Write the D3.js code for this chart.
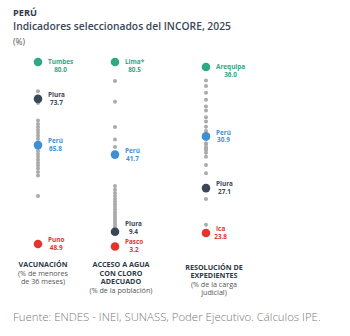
<!DOCTYPE html>
<html>
<head>
<meta charset="utf-8">
<script src="https://cdn.jsdelivr.net/npm/d3@7"></script>
<style>
  html, body { margin: 0; padding: 0; background: #fff; }
  svg { display: block; font-family: "Open Sans", "Noto Sans", sans-serif; }
</style>
</head>
<body>
<svg id="chart" width="350" height="336"></svg>
<script>
// ── data ───────────────────────────────────────────
const vacGray = [79.6, 75.0, 73.0, 70.0, 69.4, 68.9, 68.4, 67.9, 67.4, 66.9, 66.3,
  65.3, 64.8, 64.3, 63.8, 63.3, 62.8, 62.3, 61.8, 61.2, 60.6, 57.1];
const vacHighlights = [
  { name: "Tumbes", value: 80.0, kind: "top" },
  { name: "Piura", value: 73.7, kind: "piura" },
  { name: "Perú", value: 65.8, kind: "peru" },
  { name: "Puno", value: 48.9, kind: "bottom" }
];

const aguaGray = [72.5, 63.8, 53.3, 48.0, 44.9, 28.5, 27.0, 25.6, 24.4, 23.1, 22.0,
  20.9, 19.8, 18.7, 17.6, 16.6, 15.7, 14.8, 13.9, 13.0, 12.2, 11.3];
const aguaHighlights = [
  { name: "Lima*", value: 80.5, kind: "top" },
  { name: "Perú", value: 41.7, kind: "peru" },
  { name: "Piura", value: 9.4, kind: "piura" },
  { name: "Pasco", value: 3.2, kind: "bottom" }
];

const resGray = [35.0, 34.6, 34.1, 33.6, 33.1, 32.8, 32.3, 32.0, 31.6, 31.3, 30.7,
  30.4, 30.3, 30.1, 30.0, 29.9, 29.7, 29.4, 28.8, 28.2, 26.3, 24.4];
const resHighlights = [
  { name: "Arequipa", value: 36.0, kind: "top" },
  { name: "Perú", value: 30.9, kind: "peru" },
  { name: "Piura", value: 27.1, kind: "piura" },
  { name: "Ica", value: 23.8, kind: "bottom" }
];

const categoryTitles = [
  ["VACUNACIÓN"],
  ["ACCESO A AGUA", "CON CLORO", "ADECUADO"],
  ["RESOLUCIÓN DE", "EXPEDIENTES"]
];
const categoryNotes = [
  ["(% de menores", "de 36 meses)"],
  ["(% de la población)"],
  ["(% de la carga", "judicial)"]
];

// ── layout ─────────────────────────────────────────
const colors = {
  top: "#2fa884",
  piura: "#3a4758",
  peru: "#3f8fd6",
  bottom: "#e2352c",
  gray: "#ababab"
};

const columns = [
  { gray: vacGray, hl: vacHighlights, x: 38, range: [244, 62], labelX: 43, labelY: 267 },
  { gray: aguaGray, hl: aguaHighlights, x: 115, range: [246.5, 62], labelX: 121, labelY: 267 },
  { gray: resGray, hl: resHighlights, x: 206, range: [233, 67], labelX: 214, labelY: 269.5 }
];

// small vertical nudges so labels don't clash (col index + kind)
function labelNudge(i, d) {
  if (d.kind === "top") return 4;
  if (i === 1 && d.kind === "piura") return -3.5;
  if (i === 1 && d.kind === "bottom") return -1;
  return 0;
}

const svg = d3.select("#chart");

// titles
svg.append("text")
  .attr("x", 13).attr("y", 15.5)
  .attr("font-size", 9.2).attr("font-weight", 700)
  .attr("fill", "#2e3a4a")
  .text("PERÚ");
svg.append("text")
  .attr("x", 13).attr("y", 30)
  .attr("font-size", 10.3).attr("font-weight", 600)
  .attr("fill", "#3b4656")
  .text("Indicadores seleccionados del INCORE, 2025");
svg.append("text")
  .attr("x", 13).attr("y", 44.5)
  .attr("font-size", 8.5)
  .attr("fill", "#555")
  .text("(%)");

columns.forEach((col, i) => {
  const all = col.gray.concat(col.hl.map((d) => d.value));
  const y = d3.scaleLinear().domain(d3.extent(all)).range(col.range);
  const g = svg.append("g");

  g.selectAll("circle.gray")
    .data(col.gray)
    .join("circle")
    .attr("class", "gray")
    .attr("cx", col.x)
    .attr("cy", (d) => y(d))
    .attr("r", 2)
    .attr("fill", colors.gray);

  g.selectAll("circle.hl")
    .data(col.hl)
    .join("circle")
    .attr("class", "hl")
    .attr("cx", col.x)
    .attr("cy", (d) => y(d.value))
    .attr("r", 4.3)
    .attr("fill", (d) => colors[d.kind]);

  col.hl.forEach((d) => {
    const cy = y(d.value) + labelNudge(i, d);
    const lx = col.x + 10;
    const name = g.append("text")
      .attr("x", lx).attr("y", cy - 1.8)
      .attr("font-size", 6.4).attr("font-weight", 700)
      .attr("fill", colors[d.kind])
      .text(d.name);
    const w = name.node().getComputedTextLength();
    g.append("text")
      .attr("x", lx + w / 2).attr("y", cy + 6)
      .attr("text-anchor", "middle")
      .attr("font-size", 6.4).attr("font-weight", 700)
      .attr("fill", colors[d.kind])
      .text(d3.format(".1f")(d.value));
  });

  // category labels
  const lines = categoryTitles[i].map((t) => ({ t, bold: true }))
    .concat(categoryNotes[i].map((t) => ({ t, bold: false })));
  g.selectAll("text.cat")
    .data(lines)
    .join("text")
    .attr("class", "cat")
    .attr("x", col.labelX)
    .attr("y", (d, j) => col.labelY + j * 8.6)
    .attr("text-anchor", "middle")
    .attr("font-size", 7.2)
    .attr("font-weight", (d) => (d.bold ? 700 : 400))
    .attr("fill", (d) => (d.bold ? "#2e3a4a" : "#555"))
    .text((d) => d.t);
});

svg.append("text")
  .attr("x", 13).attr("y", 321)
  .attr("font-size", 11.4).attr("font-weight", 300)
  .attr("fill", "#7a7a7a")
  .text("Fuente: ENDES - INEI, SUNASS, Poder Ejecutivo. Cálculos IPE.");
</script>
</body>
</html>
